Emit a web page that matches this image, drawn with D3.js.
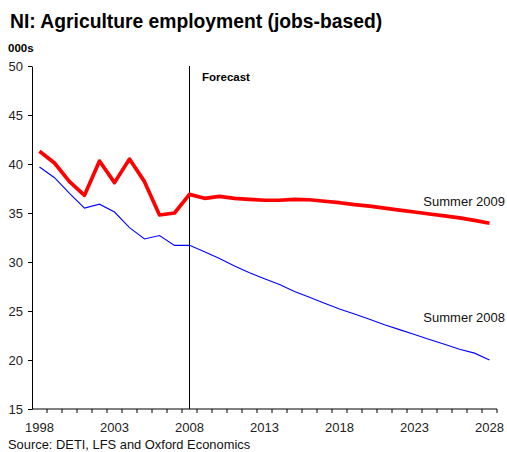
<!DOCTYPE html>
<html>
<head>
<meta charset="utf-8">
<script src="https://cdn.jsdelivr.net/npm/d3@7"></script>
<style>
  html, body { margin: 0; padding: 0; background: #fff; }
  svg text { font-family: "Liberation Sans", Arial, sans-serif; }
</style>
</head>
<body>
<div id="chart"></div>
<script>
// Years on the category axis
const years = d3.range(1998, 2029);
const tickYears = [1998, 2003, 2008, 2013, 2018, 2023, 2028];
const yTicks = [15, 20, 25, 30, 35, 40, 45, 50];

// Agriculture employment, thousands
const summer2009 = [41.3, 40.1, 38.2, 36.8, 40.3, 38.1, 40.5, 38.2, 34.8, 35.0,
  36.9, 36.5, 36.7, 36.5, 36.4, 36.3, 36.3, 36.4, 36.35, 36.2,
  36.05, 35.85, 35.7, 35.5, 35.3, 35.1, 34.9, 34.7, 34.5, 34.25, 33.95];
const summer2008 = [39.7, 38.6, 37.0, 35.5, 35.9, 35.1, 33.5, 32.35, 32.7, 31.7,
  31.7, 31.05, 30.35, 29.6, 28.9, 28.3, 27.7, 27.0, 26.4, 25.8,
  25.2, 24.7, 24.15, 23.6, 23.1, 22.6, 22.1, 21.6, 21.1, 20.7, 20.0];

const forecastYear = 2008;

const W = 507, H = 452;
const margin = { left: 32, right: 10, top: 66, bottom: 43 };
const plotW = 465, plotH = 343;

const svg = d3.select("#chart").append("svg")
  .attr("width", W).attr("height", H);

const x = d3.scaleBand().domain(years).range([margin.left, margin.left + plotW]);
const y = d3.scaleLinear().domain([15, 50]).range([margin.top + plotH, margin.top]);
const cx = d => x(d) + x.bandwidth() / 2;

// Title
svg.append("text").attr("x", 10).attr("y", 28)
  .attr("font-size", 19.3).attr("font-weight", "bold").attr("fill", "#000")
  .text("NI: Agriculture employment (jobs-based)");

// Unit label
svg.append("text").attr("x", 8).attr("y", 52)
  .attr("font-size", 11.5).attr("font-weight", "bold").attr("fill", "#000")
  .text("000s");

// Y axis
const yAxis = svg.append("g")
  .attr("transform", `translate(${margin.left},0)`)
  .call(d3.axisLeft(y).tickValues(yTicks).tickSize(4).tickPadding(5).tickSizeOuter(0));
yAxis.selectAll("text").attr("font-size", 13).attr("fill", "#222")
  .style("font-family", "Liberation Sans, Arial, sans-serif");
yAxis.select(".domain").attr("stroke", "#000");
yAxis.selectAll(".tick line").attr("stroke", "#000");

// X axis: ticks sit on category boundaries, labels on category centres
const xAxisG = svg.append("g").attr("transform", `translate(0,${margin.top + plotH})`);
xAxisG.append("line")
  .attr("x1", margin.left).attr("x2", margin.left + plotW)
  .attr("stroke", "#000");
xAxisG.selectAll("line.tk").data(years).enter().append("line")
  .attr("class", "tk")
  .attr("x1", d => x(d) + x.bandwidth()).attr("x2", d => x(d) + x.bandwidth())
  .attr("y1", 0).attr("y2", 4).attr("stroke", "#000");
xAxisG.selectAll("text").data(tickYears).enter().append("text")
  .attr("x", d => cx(d)).attr("y", 23)
  .attr("text-anchor", "middle").attr("font-size", 13).attr("fill", "#222")
  .text(d => d);

// Forecast divider
svg.append("line")
  .attr("x1", cx(forecastYear)).attr("x2", cx(forecastYear))
  .attr("y1", margin.top).attr("y2", margin.top + plotH)
  .attr("stroke", "#000").attr("stroke-width", 1);
svg.append("text").attr("x", cx(forecastYear) + 12.5).attr("y", 81)
  .attr("font-size", 11.5).attr("font-weight", "bold").attr("fill", "#000")
  .text("Forecast");

// Series lines
const line = d3.line().x((d, i) => cx(years[i])).y(d => y(d));
svg.append("path").datum(summer2008)
  .attr("d", line).attr("fill", "none")
  .attr("stroke", "#0000FF").attr("stroke-width", 1.1);
svg.append("path").datum(summer2009)
  .attr("d", line).attr("fill", "none")
  .attr("stroke", "#FF0000").attr("stroke-width", 3.7).attr("stroke-linejoin", "round");

// Series labels
svg.append("text").attr("x", 505).attr("y", 206)
  .attr("text-anchor", "end").attr("font-size", 13).attr("fill", "#111")
  .text("Summer 2009");
svg.append("text").attr("x", 505).attr("y", 322)
  .attr("text-anchor", "end").attr("font-size", 13).attr("fill", "#111")
  .text("Summer 2008");

// Source note
svg.append("text").attr("x", 8).attr("y", 449)
  .attr("font-size", 12.9).attr("fill", "#111")
  .text("Source: DETI, LFS and Oxford Economics");
</script>
</body>
</html>
